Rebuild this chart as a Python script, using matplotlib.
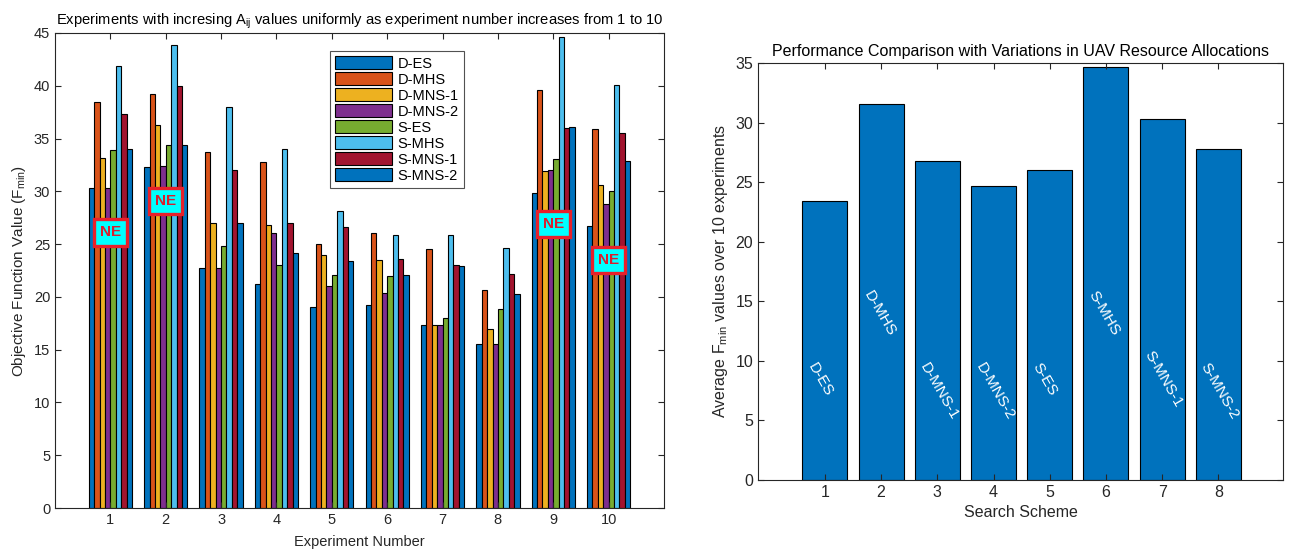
import matplotlib
matplotlib.use("Agg")
import matplotlib.pyplot as plt
import numpy as np

plt.rcParams['font.family'] = ['Liberation Sans', 'DejaVu Sans']
plt.rcParams['mathtext.fontset'] = 'custom'
plt.rcParams['mathtext.rm'] = 'Liberation Sans'
plt.rcParams['mathtext.it'] = 'Liberation Sans'

experiments = [1, 2, 3, 4, 5, 6, 7, 8, 9, 10]
schemes = ["D-ES", "D-MHS", "D-MNS-1", "D-MNS-2", "S-ES", "S-MHS", "S-MNS-1", "S-MNS-2"]

d_es    = [30.3, 32.3, 22.7, 21.2, 19.0, 19.2, 17.3, 15.5, 29.8, 26.7]
d_mhs   = [38.5, 39.2, 33.7, 32.8, 25.0, 26.1, 24.5, 20.7, 39.6, 35.9]
d_mns1  = [33.2, 36.3, 27.0, 26.8, 24.0, 23.5, 17.3, 17.0, 31.9, 30.6]
d_mns2  = [30.3, 32.4, 22.7, 26.1, 21.0, 20.4, 17.3, 15.5, 32.0, 28.8]
s_es    = [33.9, 34.4, 24.8, 23.0, 22.1, 22.0, 18.0, 18.9, 33.1, 30.0]
s_mhs   = [41.9, 43.9, 38.0, 34.0, 28.1, 25.9, 25.9, 24.6, 44.6, 40.1]
s_mns1  = [37.3, 40.0, 32.0, 27.0, 26.6, 23.6, 23.0, 22.2, 36.0, 35.5]
s_mns2  = [34.0, 34.4, 27.0, 24.2, 23.4, 22.1, 22.9, 20.3, 36.1, 32.9]
series = [d_es, d_mhs, d_mns1, d_mns2, s_es, s_mhs, s_mns1, s_mns2]

ne_experiments = [1, 2, 9, 10]
ne_levels = [26.1, 29.1, 26.9, 23.5]

scheme_ids = [1, 2, 3, 4, 5, 6, 7, 8]
avg_fmin = [23.4, 31.6, 26.8, 24.7, 26.0, 34.7, 30.3, 27.8]
label_tops = [10.0, 16.1, 10.0, 10.0, 10.0, 16.1, 11.0, 10.0]

colors = ["#0072BD", "#D95319", "#EDB120", "#7E2F8E", "#77AC30", "#4DBEEE", "#A2142F", "#0072BD"]
axcol = "#262626"

fig = plt.figure(figsize=(12.92, 5.57), dpi=100)

# ---------- left chart ----------
ax1 = fig.add_axes([55/1292, 1-508/557, (664-55)/1292, (508-33)/557])
n = len(series)
bw = 0.78 / n
x = np.array(experiments, dtype=float)
for i, (vals, c, name) in enumerate(zip(series, colors, schemes)):
    offs = (i - (n - 1) / 2) * bw
    ax1.bar(x + offs, vals, width=bw, color=c, edgecolor="black", linewidth=0.8, label=name)
ax1.set_xlim(0, 11)
ax1.set_ylim(0, 45)
ax1.set_xticks(experiments)
ax1.set_yticks(np.arange(0, 46, 5))
ax1.tick_params(direction='in', top=True, right=True, labelsize=10.5, colors=axcol, length=4)
for s in ax1.spines.values():
    s.set_color(axcol)
    s.set_linewidth(0.8)
ax1.set_xlabel("Experiment Number", fontsize=10.5, color=axcol, labelpad=6)
ax1.set_ylabel("Objective Function Value (F$_{min}$)", fontsize=11, color=axcol)
ax1.set_title("Experiments with incresing A$_{\\mathrm{ij}}$ values uniformly as experiment number increases from 1 to 10",
              fontsize=10.6, color="black", pad=6)
leg = ax1.legend(loc='upper left', bbox_to_anchor=(0.452, 0.962), fontsize=10.5, frameon=True,
                 fancybox=False, edgecolor=axcol, handlelength=3.9, handleheight=1.0,
                 labelspacing=0.1, borderpad=0.35, handletextpad=0.35, borderaxespad=0)
leg.get_frame().set_linewidth(0.8)
for ex, lvl in zip(ne_experiments, ne_levels):
    ax1.text(ex, lvl, "NE", ha='center', va='center', color="#D91E2E", fontsize=11, fontweight='bold',
             bbox=dict(boxstyle='square,pad=0.4', facecolor="#00FFFF", edgecolor="#E8202A", linewidth=2.4))

# ---------- right chart ----------
ax2 = fig.add_axes([758/1292, 1-480/557, (1283-758)/1292, (480-63)/557])
ax2.bar(scheme_ids, avg_fmin, width=0.8, color="#0072BD", edgecolor="black", linewidth=0.8)
ax2.set_xlim(-0.19, 9.15)
ax2.set_ylim(0, 35)
ax2.set_xticks(scheme_ids)
ax2.set_yticks(np.arange(0, 36, 5))
ax2.tick_params(direction='in', top=True, right=True, labelsize=11.5, colors=axcol, length=4)
for s in ax2.spines.values():
    s.set_color(axcol)
    s.set_linewidth(0.8)
ax2.set_xlabel("Search Scheme", fontsize=11.5, color=axcol)
ax2.set_ylabel("Average F$_{min}$ values over 10 experiments", fontsize=11.5, color=axcol)
ax2.set_title("Performance Comparison with Variations in UAV Resource Allocations", fontsize=11.5,
              color="black", pad=5)
for sid, top, name in zip(scheme_ids, label_tops, schemes):
    ax2.text(sid - 0.36, top, name, rotation=-60, ha='left', va='top', color="white", fontsize=11)

fig.savefig("out.png", dpi=100)
